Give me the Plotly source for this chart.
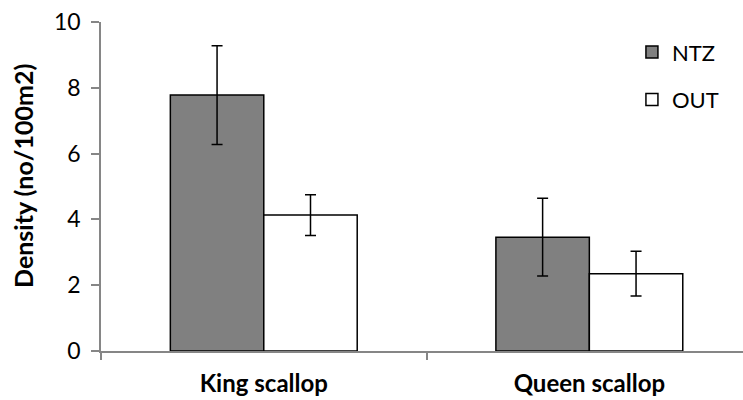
import plotly.graph_objects as go

categories = ["King scallop", "Queen scallop"]
ntz_values = [7.78, 3.46]
ntz_errors = [1.50, 1.18]
out_values = [4.13, 2.35]
out_errors = [0.62, 0.68]
y_ticks = [0, 2, 4, 6, 8, 10]
y_title = "Density (no/100m2)"

FONT = "Lato"

fig = go.Figure()
fig.add_trace(go.Bar(
    name="NTZ", x=categories, y=ntz_values,
    marker=dict(color="#808080", line=dict(color="black", width=1.5)),
    error_y=dict(type="data", array=ntz_errors, color="black", thickness=1.5, width=5.5),
    legendgroup="a",
))
fig.add_trace(go.Bar(
    name="OUT", x=categories, y=out_values,
    marker=dict(color="white", line=dict(color="black", width=1.5)),
    error_y=dict(type="data", array=out_errors, color="black", thickness=1.5, width=5.5),
    legendgroup="b",
))

fig.update_layout(
    width=743, height=400,
    margin=dict(l=101, r=0, t=22, b=49, autoexpand=False),
    paper_bgcolor="white", plot_bgcolor="white",
    barmode="group", bargap=0.426, bargroupgap=0,
    font=dict(family=FONT, size=22, color="black"),
    showlegend=True,
    legend=dict(x=0.827, y=0.972, xanchor="left", yanchor="top",
                font=dict(family=FONT, size=22, color="black"),
                tracegroupgap=16, traceorder="grouped",
                bgcolor="rgba(0,0,0,0)"),
)
fig.add_annotation(
    text=y_title, textangle=-90, xref="paper", yref="paper",
    x=-0.1215, y=0.532, xanchor="center", yanchor="middle", showarrow=False,
    font=dict(family=FONT, size=25, color="black", weight="bold"),
)
fig.update_xaxes(
    type="category", range=[-0.5, 1.472], automargin=False,
    showline=True, linecolor="#868686", linewidth=1.5,
    ticks="outside", tickson="boundaries", ticklen=7, tickcolor="#868686", tickwidth=1.5,
    showgrid=False, zeroline=False, ticklabelstandoff=10,
    tickfont=dict(family=FONT, size=24, color="black", weight="bold"),
)
fig.update_yaxes(
    range=[0, 10], tickvals=y_ticks, automargin=False,
    showline=True, linecolor="#868686", linewidth=1.5,
    ticks="outside", ticklen=8, tickcolor="#868686", tickwidth=1.5,
    showgrid=False, zeroline=False, ticklabelstandoff=6,
    tickfont=dict(family=FONT, size=23, color="black"),
)

fig.write_html("out.html", config={"displayModeBar": False},
               post_script="document.body.style.margin='0';document.body.style.overflow='hidden';")
